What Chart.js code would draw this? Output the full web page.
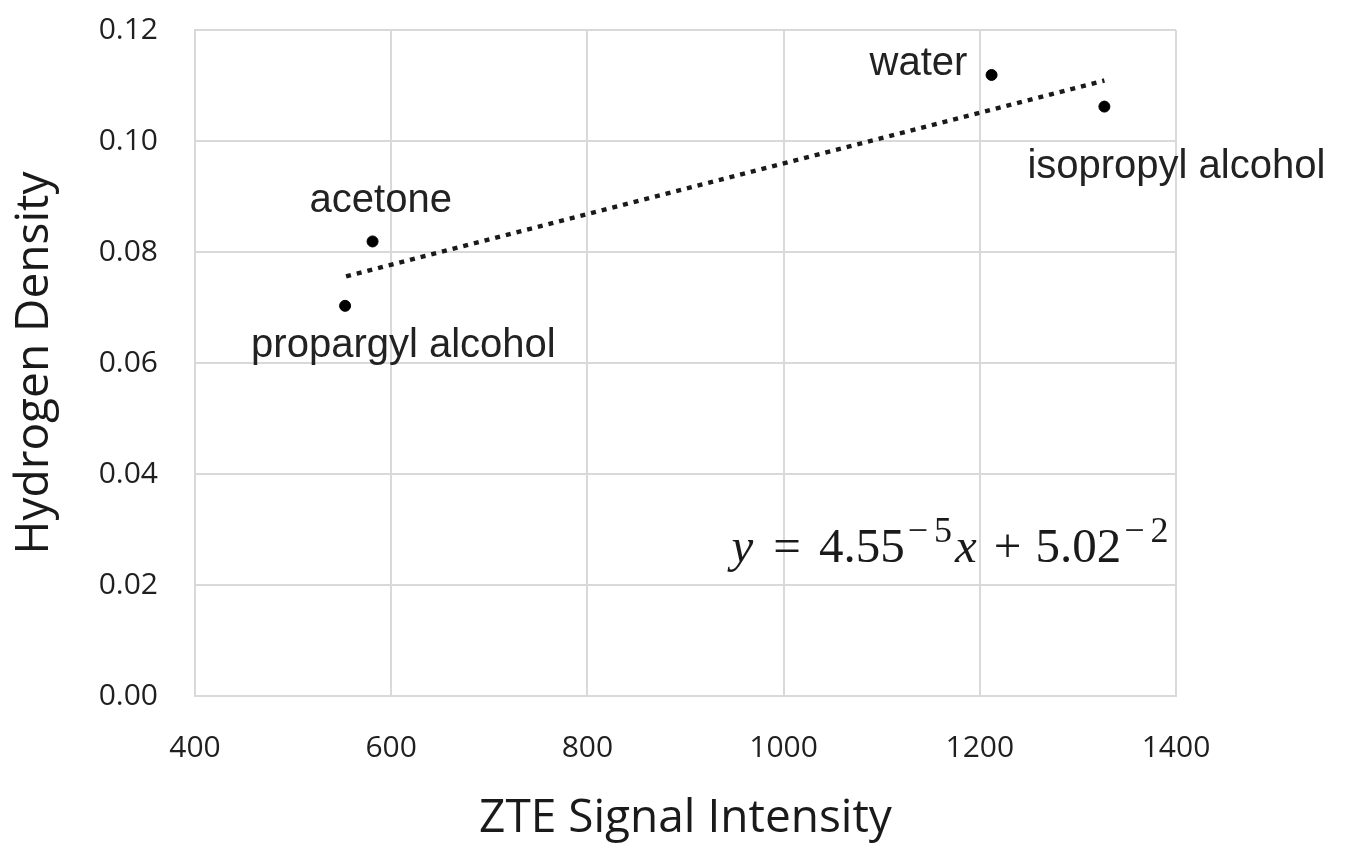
<!DOCTYPE html>
<html>
<head>
<meta charset="utf-8">
<script src="https://cdn.jsdelivr.net/npm/chart.js@4.4.1/dist/chart.umd.min.js"></script>
<style>
  html, body { margin: 0; padding: 0; background: #fff; }
  canvas { display: block; }
</style>
</head>
<body>
<canvas id="densityChart" width="1358" height="848"></canvas>
<script>
// values
const sampleNames = ['propargyl alcohol', 'acetone', 'water', 'isopropyl alcohol'];
const zteSignal = [553, 581, 1212, 1327];
const hydrogenDensity = [0.0703, 0.0819, 0.1119, 0.1062];

const trendX = [554, 1327];
const trendY = [0.0756, 0.1109];

const xTickValues = [400, 600, 800, 1000, 1200, 1400];
const yTickValues = [0, 0.02, 0.04, 0.06, 0.08, 0.10, 0.12];

// label placement, pixels from each point (left edge, baseline)
const labelOffsets = [[-94, 51], [-63, -29], [-122, 0], [-77, 71]];

// equation anchor in data units (left edge, baseline)
const equationAnchor = { x: 947, y: 0.0241 };

const gridColor = '#d9d9d9';
const textColor = '#1f1f1f';

const pointLabels = {
  id: 'pointLabels',
  afterDatasetsDraw(chart) {
    const { ctx } = chart;
    const meta = chart.getDatasetMeta(0);
    ctx.save();
    ctx.font = '40px "Liberation Sans", Arial, sans-serif';
    ctx.fillStyle = '#222';
    ctx.textAlign = 'left';
    ctx.textBaseline = 'alphabetic';
    meta.data.forEach((pt, i) => {
      const [dx, dy] = labelOffsets[i];
      ctx.fillText(sampleNames[i], pt.x + dx, pt.y + dy);
    });
    ctx.restore();
  }
};

const equationLabel = {
  id: 'equationLabel',
  afterDraw(chart) {
    const { ctx, scales } = chart;
    let x = scales.x.getPixelForValue(equationAnchor.x);
    const y = scales.y.getPixelForValue(equationAnchor.y);
    const serif = '"Liberation Serif", "DejaVu Serif", serif';
    const big = `49px ${serif}`;
    const bigItalic = `italic 49px ${serif}`;
    const small = `36px ${serif}`;
    const parts = [
      { text: 'y', font: bigItalic, rise: 0, gap: 20 },
      { text: '=', font: big, rise: 0, gap: 18 },
      { text: '4.55', font: big, rise: 0, gap: 3 },
      { text: '\u2212', font: small, rise: 20, gap: 6 },
      { text: '5', font: small, rise: 20, gap: 3 },
      { text: 'x', font: bigItalic, rise: 0, gap: 17 },
      { text: '+', font: big, rise: 0, gap: 14 },
      { text: '5.02', font: big, rise: 0, gap: 3 },
      { text: '\u2212', font: small, rise: 20, gap: 6 },
      { text: '2', font: small, rise: 20, gap: 0 }
    ];
    ctx.save();
    ctx.fillStyle = '#1a1a1a';
    ctx.textAlign = 'left';
    ctx.textBaseline = 'alphabetic';
    parts.forEach((part) => {
      ctx.font = part.font;
      ctx.fillText(part.text, x, y - part.rise);
      x += ctx.measureText(part.text).width + part.gap;
    });
    ctx.restore();
  }
};

new Chart(document.getElementById('densityChart').getContext('2d'), {
  type: 'scatter',
  data: {
    datasets: [
      {
        label: 'samples',
        data: zteSignal.map((x, i) => ({ x, y: hydrogenDensity[i] })),
        backgroundColor: '#000',
        borderColor: '#000',
        pointRadius: 5.5,
        pointHoverRadius: 5.5
      },
      {
        label: 'trend',
        type: 'line',
        data: trendX.map((x, i) => ({ x, y: trendY[i] })),
        borderColor: '#1a1a1a',
        borderWidth: 4.5,
        borderDash: [5, 6],
        borderCapStyle: 'butt',
        pointRadius: 0,
        fill: false
      }
    ]
  },
  options: {
    responsive: false,
    animation: false,
    layout: { padding: { top: 30, right: 182, left: 0, bottom: 0 } },
    plugins: { legend: { display: false }, tooltip: { enabled: false } },
    scales: {
      x: {
        type: 'linear',
        min: 400,
        max: 1400,
        afterBuildTicks: (scale) => { scale.ticks = xTickValues.map((value) => ({ value })); },
        afterFit: (scale) => { scale.height = 152; },
        grid: { color: gridColor, lineWidth: 2, drawTicks: false },
        border: { color: gridColor, width: 2 },
        ticks: {
          padding: 34,
          color: textColor,
          font: { family: '"Open Sans", sans-serif', size: 30 },
          callback: (value) => String(value)
        },
        title: {
          display: true,
          text: 'ZTE Signal Intensity',
          color: '#1a1a1a',
          font: { family: '"Open Sans", sans-serif', size: 46, lineHeight: 1.2 },
          padding: { top: 0, bottom: 2 }
        }
      },
      y: {
        type: 'linear',
        min: 0,
        max: 0.12,
        afterBuildTicks: (scale) => { scale.ticks = yTickValues.map((value) => ({ value })); },
        afterFit: (scale) => {
          scale.width = 195;
          // the tick padding would otherwise push the plot top down
          scale.paddingTop = 0;
          scale.paddingBottom = 0;
        },
        grid: { color: gridColor, lineWidth: 2, drawTicks: false },
        border: { color: gridColor, width: 2 },
        ticks: {
          padding: 37,
          color: textColor,
          font: { family: '"Open Sans", sans-serif', size: 30 },
          callback: (value) => Number(value).toFixed(2)
        },
        title: {
          display: true,
          text: 'Hydrogen Density',
          color: '#1a1a1a',
          font: { family: '"Open Sans", sans-serif', size: 46, lineHeight: 1.2 },
          padding: { top: 7, bottom: 0 }
        }
      }
    }
  },
  plugins: [pointLabels, equationLabel]
});
</script>
</body>
</html>
